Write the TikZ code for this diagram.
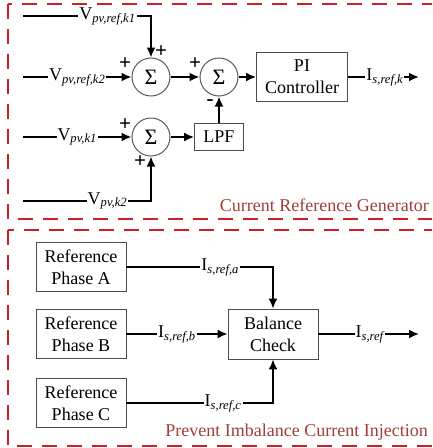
\documentclass[tikz,border=0pt]{standalone}
\usepackage{fontspec}
\setmainfont{Liberation Serif}
\usetikzlibrary{arrows.meta}
\definecolor{boxred}{RGB}{204,32,40}
\definecolor{titlered}{RGB}{160,62,56}
\newcommand{\qlab}[2]{#1\textsubscript{\itshape #2}}
\tikzset{
  blk/.style={draw=black!70, line width=0.8pt, fill=white, align=center, inner sep=0pt, font=\fontsize{18}{22}\selectfont},
  sumnode/.style={draw=black!65, circle, solid, line width=1pt, minimum size=38pt, inner sep=0pt, font=\fontsize{22}{24}\selectfont},
  lbl/.style={fill=white, inner sep=1pt, font=\fontsize{18}{20}\selectfont},
  pm/.style={inner sep=0pt, font=\fontsize{21}{22}\selectfont\bfseries},
  sig/.style={line width=1.8pt, -{Latex[length=10pt,width=9pt]}},
  frame/.style={draw=boxred, line width=2.2pt, dash pattern=on 15pt off 10pt},
  caption/.style={text=titlered, anchor=east, inner sep=0pt, font=\fontsize{18}{20}\selectfont}
}
\begin{document}
\begin{tikzpicture}[x=1pt,y=-1pt]
  \clip (0,0) rectangle (432,448);
  \draw[frame] (8,4) rectangle (445,219);
  \draw[frame] (8,230) rectangle (445,446);

  \node[sumnode] (s1) at (151,77) {Σ};
  \node[sumnode] (s2) at (219,77) {Σ};
  \node[sumnode] (s3) at (151,137) {Σ};
  \node[blk, minimum width=91pt, minimum height=49pt] (pi) at (302,77) {PI\\Controller};
  \node[blk, minimum width=49pt, minimum height=27pt] (lpf) at (219,137) {LPF};

  \coordinate (k1in) at (23,16);
  \coordinate (k2in) at (23,77);
  \coordinate (m1in) at (23,137);
  \coordinate (m2in) at (23,201);
  \coordinate (kout) at (419,77);

  \draw[sig] (k1in) -| node[lbl, pos=0.33] {\qlab{V}{pv,ref,k1}} (s1);
  \draw[sig] (k2in) -- node[lbl, pos=0.5] {\qlab{V}{pv,ref,k2}} (s1);
  \draw[sig] (m1in) -- node[lbl, pos=0.5] {\qlab{V}{pv,k1}} (s3);
  \draw[sig] (m2in) -| node[lbl, pos=0.33] {\qlab{V}{pv,k2}} (s3);
  \draw[sig] (s1) -- (s2);
  \draw[sig] (s3) -- (lpf);
  \draw[sig] (lpf) -- (s2);
  \draw[sig] (s2) -- (pi);
  \draw[sig] (pi) -- node[lbl, pos=0.52] {\qlab{I}{s,ref,k}} (kout);

  \node[pm] (p1) at (161,52) {+};
  \node[pm] (p2) at (125,64) {+};
  \node[pm] (p3) at (195,64) {+};
  \node[pm] (p4) at (210,103) {-};
  \node[pm] (p5) at (125,125) {+};
  \node[pm] (p6) at (140,162) {+};

  \node[caption] (t1) at (429,205) {Current Reference Generator};

  \node[blk, minimum width=90pt, minimum height=49pt] (ra) at (81,267) {Reference\\Phase A};
  \node[blk, minimum width=90pt, minimum height=49pt] (rb) at (81,334) {Reference\\Phase B};
  \node[blk, minimum width=90pt, minimum height=49pt] (rc) at (81,403) {Reference\\Phase C};
  \node[blk, minimum width=90pt, minimum height=50pt] (bal) at (273,334) {Balance\\Check};
  \coordinate (bout) at (419,334);

  \draw[sig] (ra) -| node[lbl, pos=0.32] {\qlab{I}{s,ref,a}} (bal);
  \draw[sig] (rb) -- node[lbl, pos=0.5] {\qlab{I}{s,ref,b}} (bal);
  \draw[sig] (rc) -| node[lbl, pos=0.33] {\qlab{I}{s,ref,c}} (bal);
  \draw[sig] (bal) -- node[lbl, pos=0.51] {\qlab{I}{s,ref}} (bout);

  \node[caption] (t2) at (428,432) {Prevent Imbalance Current Injection};
\end{tikzpicture}
\end{document}
